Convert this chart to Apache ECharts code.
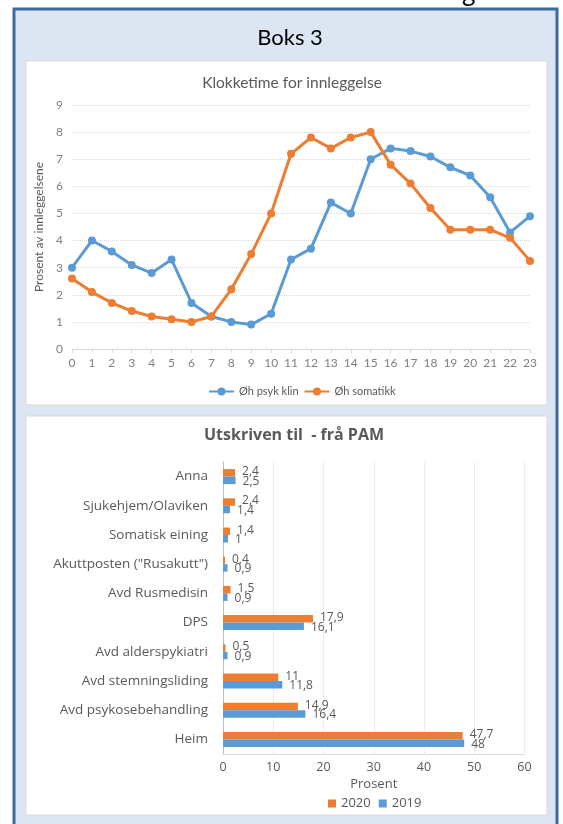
<!DOCTYPE html>
<html>
<head>
<meta charset="utf-8">
<script src="https://cdn.jsdelivr.net/npm/echarts@6/dist/echarts.min.js"></script>
<style>
  html, body { margin: 0; padding: 0; background: #ffffff; }
  #chart { width: 563px; height: 824px; }
</style>
</head>
<body>
<div id="chart"></div>
<script>
// Klokketime for innleggelse
var hours = ['0','1','2','3','4','5','6','7','8','9','10','11','12','13','14','15','16','17','18','19','20','21','22','23'];
var psykKlin = [3.0, 4.0, 3.6, 3.1, 2.8, 3.3, 1.7, 1.2, 1.0, 0.9, 1.3, 3.3, 3.7, 5.4, 5.0, 7.0, 7.4, 7.3, 7.1, 6.7, 6.4, 5.6, 4.3, 4.9];
var somatikk = [2.6, 2.1, 1.7, 1.4, 1.2, 1.1, 1.0, 1.2, 2.2, 3.5, 5.0, 7.2, 7.8, 7.4, 7.8, 8.0, 6.8, 6.1, 5.2, 4.4, 4.4, 4.4, 4.1, 3.25];

// Utskriven til - frå PAM (nedst først)
var places = ['Heim', 'Avd psykosebehandling', 'Avd stemningsliding', 'Avd alderspykiatri', 'DPS',
              'Avd Rusmedisin', 'Akuttposten ("Rusakutt")', 'Somatisk eining', 'Sjukehjem/Olaviken', 'Anna'];
var year2020 = [47.7, 14.9, 11, 0.5, 17.9, 1.5, 0.4, 1.4, 2.4, 2.4];
var year2019 = [48, 16.4, 11.8, 0.9, 16.1, 0.9, 0.9, 1, 1.4, 2.5];

var blue = '#5b9bd5';
var orange = '#ed7d31';
var grey = '#595959';

var myChart = echarts.init(document.getElementById('chart'));

function komma(p) {
    return String(p.value).replace('.', ',');
}

var option = {
    animation: false,
    graphic: [
        // bakgrunn
        { type: 'rect', z: -10, shape: { x: 14, y: 9, width: 543, height: 830 },
          style: { fill: '#dce6f2', stroke: '#3d6ba0', lineWidth: 3 } },
        { type: 'rect', z: -9, shape: { x: 26, y: 61, width: 521, height: 344 },
          style: { fill: '#ffffff', stroke: '#d9d9d9', lineWidth: 1 } },
        { type: 'rect', z: -9, shape: { x: 26, y: 416, width: 521, height: 399 },
          style: { fill: '#ffffff', stroke: '#d9d9d9', lineWidth: 1 } },
        { type: 'text', x: 290, y: 27,
          style: { text: 'Boks 3', fontSize: 22, fontFamily: 'Lato', fill: '#000000', align: 'center' } },
        // avskoren overskrift over boksen
        { type: 'text', x: 462, y: -20,
          style: { text: 'g', fontSize: 26, fontFamily: 'Lato', fill: '#000000', verticalAlign: 'top' } }
    ],
    title: [
        { text: 'Klokketime for innleggelse', left: 287, top: 70, textAlign: 'center',
          textStyle: { fontSize: 15.5, fontWeight: 'normal', color: grey, fontFamily: 'Lato' } },
        { text: 'Utskriven til  - frå PAM', left: 289, top: 422, textAlign: 'center',
          textStyle: { fontSize: 16, fontWeight: 'bold', color: grey, fontFamily: 'Open Sans' } }
    ],
    legend: [
        { data: ['Øh psyk klin', 'Øh somatikk'], left: 203, top: 381,
          itemWidth: 25, itemHeight: 10, itemGap: 5,
          textStyle: { fontSize: 11, color: grey, fontFamily: 'Lato' } },
        { data: ['2020', '2019'], left: 323, top: 792, icon: 'rect',
          itemWidth: 8, itemHeight: 8, itemGap: 8,
          textStyle: { fontSize: 13, color: grey, fontFamily: 'Open Sans' } }
    ],
    grid: [
        { left: 72, right: 33, top: 105, bottom: 475 },
        { left: 223, right: 38.5, top: 462, bottom: 70 }
    ],
    xAxis: [
        { gridIndex: 0, type: 'category', data: hours, boundaryGap: false,
          axisLine: { lineStyle: { color: '#d9d9d9' } },
          axisTick: { show: true, alignWithLabel: true, length: 4, lineStyle: { color: '#d9d9d9' } },
          axisLabel: { color: '#7f7f7f', fontSize: 12, margin: 8, fontFamily: 'Lato' } },
        { gridIndex: 1, type: 'value', min: 0, max: 60, interval: 10,
          name: 'Prosent', nameLocation: 'middle', nameGap: 24,
          nameTextStyle: { color: grey, fontSize: 13, fontFamily: 'Open Sans' },
          axisLine: { show: true, lineStyle: { color: '#d9d9d9' } },
          axisTick: { show: false },
          splitLine: { lineStyle: { color: '#d9d9d9', type: 'dotted' } },
          axisLabel: { color: grey, fontSize: 12.5, margin: 7, fontFamily: 'Open Sans' } }
    ],
    yAxis: [
        { gridIndex: 0, type: 'value', min: 0, max: 9, interval: 1,
          name: 'Prosent av innleggelsene', nameLocation: 'middle', nameGap: 22, nameRotate: 90,
          nameTextStyle: { color: grey, fontSize: 12, fontFamily: 'Lato' },
          axisLine: { show: false }, axisTick: { show: false },
          splitLine: { lineStyle: { color: '#d9d9d9', type: 'dotted' } },
          axisLabel: { color: '#7f7f7f', fontSize: 12, margin: 9, fontFamily: 'Lato' } },
        { gridIndex: 1, type: 'category', data: places,
          axisLine: { show: true, lineStyle: { color: '#bfbfbf' } },
          axisTick: { show: false },
          axisLabel: { color: grey, fontSize: 13.5, margin: 15, fontFamily: 'Open Sans' } }
    ],
    series: [
        { name: 'Øh psyk klin', type: 'line', xAxisIndex: 0, yAxisIndex: 0, data: psykKlin,
          symbol: 'circle', symbolSize: 8, color: blue, lineStyle: { width: 3 } },
        { name: 'Øh somatikk', type: 'line', xAxisIndex: 0, yAxisIndex: 0, data: somatikk,
          symbol: 'circle', symbolSize: 8, color: orange, lineStyle: { width: 3 } },
        { name: '2020', type: 'bar', xAxisIndex: 1, yAxisIndex: 1, data: year2020,
          color: orange, barWidth: 7.5, barGap: '0%',
          label: { show: true, position: 'right', distance: 7, offset: [0, -1], formatter: komma,
                   color: grey, fontSize: 12, fontFamily: 'Open Sans' } },
        { name: '2019', type: 'bar', xAxisIndex: 1, yAxisIndex: 1, data: year2019,
          color: blue, barWidth: 7.5, barGap: '0%',
          label: { show: true, position: 'right', distance: 7, offset: [0, 1], formatter: komma,
                   color: grey, fontSize: 12, fontFamily: 'Open Sans' } }
    ]
};

myChart.setOption(option);
</script>
</body>
</html>
